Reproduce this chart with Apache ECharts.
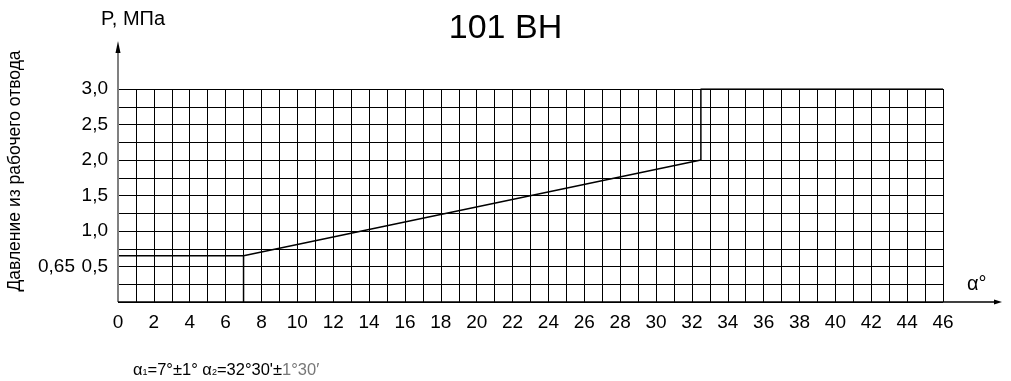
<!DOCTYPE html>
<html>
<head>
<meta charset="utf-8">
<style>
  html, body { margin: 0; padding: 0; background: #fff; }
  #chart { width: 1011px; height: 381px; }
</style>
<script src="https://cdn.jsdelivr.net/npm/echarts@6/dist/echarts.min.js"></script>
</head>
<body>
<div id="chart"></div>
<script>
// Characteristic of the valve: outlet pressure vs. angle
const alpha = [0, 7, 7, 7, 32.5, 32.5, 46];
const pressure = [0.65, 0.65, 0, 0.65, 2.0, 3.0, 3.0];
const xRange = [0, 46];
const yRange = [0, 3];
const xLabelEvery = 2;
const yLabelEvery = 0.5;
const titleText = '101 ВН';
const yName = 'P, МПа';
const xName = 'α°';
const sideName = 'Давление из рабочего отвода';

const FONT = '"Liberation Sans", Arial, sans-serif';
const G = { left: 118, right: 68, top: 89, bottom: 79 };
const W = 1011, H = 381;
const x0 = G.left, yBase = H - G.bottom;

const chart = echarts.init(document.getElementById('chart'), null, { renderer: 'canvas' });

const comma = (v, d) => v.toFixed(d).replace('.', ',');

chart.setOption({
  animation: false,
  backgroundColor: '#fff',
  textStyle: { fontFamily: FONT },
  title: {
    text: titleText, left: 'center', top: 7,
    textStyle: { fontFamily: FONT, fontSize: 34, fontWeight: 'normal', color: '#000' }
  },
  grid: { left: G.left, right: G.right, top: G.top, bottom: G.bottom, containLabel: false },
  xAxis: {
    type: 'value', min: xRange[0], max: xRange[1], interval: 1,
    axisLine: { show: false }, axisTick: { show: false },
    axisLabel: {
      color: '#000', fontSize: 19, margin: 11, fontFamily: FONT,
      formatter: v => (v % xLabelEvery === 0 ? String(v) : '')
    },
    splitLine: { show: true, lineStyle: { color: '#000', width: 1 } }
  },
  yAxis: {
    type: 'value', min: yRange[0], max: yRange[1], interval: 0.25,
    axisLine: { show: false }, axisTick: { show: false },
    axisLabel: {
      color: '#000', fontSize: 19, margin: 10, fontFamily: FONT,
      formatter: v => (v > 0 && Math.abs(v / yLabelEvery - Math.round(v / yLabelEvery)) < 1e-9 ? comma(v, 1) : '')
    },
    splitLine: { show: true, lineStyle: { color: '#000', width: 1 } }
  },
  series: [
    {
      type: 'line',
      data: alpha.map((a, i) => [a, pressure[i]]),
      showSymbol: false,
      lineStyle: { color: '#000', width: 1.5 },
      z: 5
    },
    {
      // annotation of the initial pressure level
      type: 'scatter',
      data: [[alpha[0], pressure[0]]],
      symbolSize: 0,
      itemStyle: { opacity: 1 },
      label: {
        show: true, position: 'left', distance: 43, offset: [0, 11],
        color: '#000', fontSize: 19, fontFamily: FONT,
        formatter: p => comma(p.value[1], 2)
      },
      z: 6
    }
  ],
  graphic: [
    // vertical axis with arrow
    { type: 'line', shape: { x1: x0, y1: yBase, x2: x0, y2: 50 },
      style: { stroke: '#808080', lineWidth: 2 }, z: 10 },
    { type: 'polygon', shape: { points: [[x0, 41], [x0 - 2.5, 53], [x0 + 2.5, 53]] },
      style: { fill: '#000' }, z: 10 },
    // horizontal axis with arrow
    { type: 'line', shape: { x1: x0, y1: yBase, x2: 996, y2: yBase },
      style: { stroke: '#000', lineWidth: 1.5 }, z: 10 },
    { type: 'polygon', shape: { points: [[1002, yBase], [994, yBase - 2.5], [994, yBase + 2.5]] },
      style: { fill: '#000' }, z: 10 },
    // axis names
    { type: 'text', left: 101, top: 9,
      style: { text: yName, fill: '#000', font: '20px ' + FONT } },
    { type: 'text', left: 967, top: 274,
      style: { text: xName, fill: '#000', font: '20px ' + FONT } },
    { type: 'text', x: 15, y: 171, rotation: Math.PI / 2,
      style: { text: sideName, fill: '#000', font: '17.5px ' + FONT, align: 'center', verticalAlign: 'middle' } },
    // tolerance note
    { type: 'text', left: 133, top: 362,
      style: {
        text: '{a|α}{s|1}{a|=7°±1° α}{s|2}{a|=32°30\'±}{g|1°30′}',
        rich: {
          a: { fontSize: 16.5, fill: '#000', fontFamily: FONT },
          s: { fontSize: 9, fill: '#000', fontFamily: FONT, padding: [5, 0, 0, 0] },
          g: { fontSize: 16.5, fill: '#777', fontFamily: FONT }
        }
      } }
  ]
});
</script>
</body>
</html>
